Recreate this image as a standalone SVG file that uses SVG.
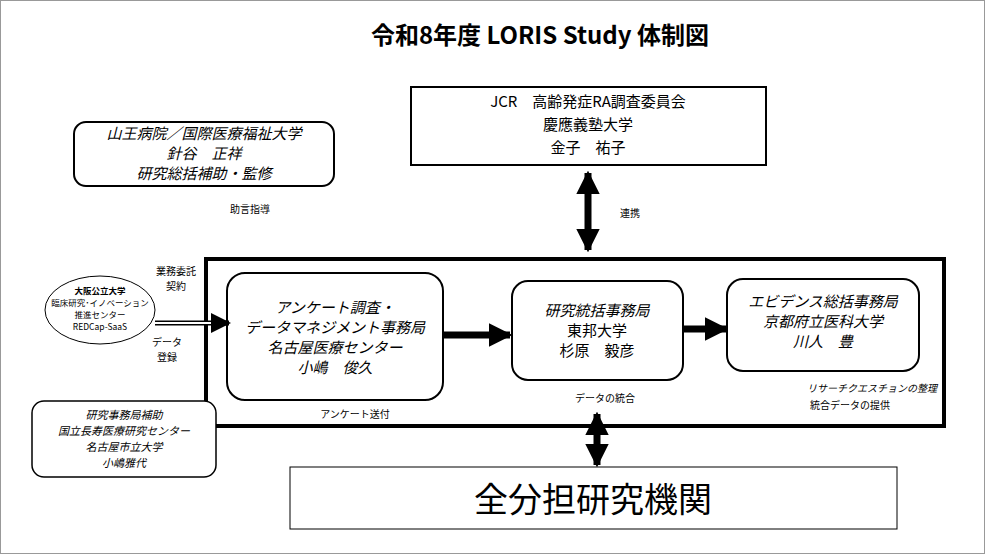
<svg xmlns="http://www.w3.org/2000/svg" width="985" height="554" viewBox="0 0 985 554">
<style>
text{font-family:"Noto Sans CJK JP","Noto Sans",sans-serif;fill:#000;text-anchor:middle}
.b{fill:#fff;stroke:#000;stroke-width:2}
.it{font-style:italic}
.s{font-size:10px}
.e{font-size:8.5px}
.m{font-size:15px}
</style>
<defs>
<marker id="ah" viewBox="0 0 10 10" refX="9" refY="5" markerWidth="3.4" markerHeight="3.4" orient="auto-start-reverse"><path d="M0,0L10,5L0,10z"/></marker>
<marker id="ah2" viewBox="0 0 10 10" refX="9" refY="5" markerWidth="4" markerHeight="4" orient="auto"><path d="M0,0L10,5L0,10z"/></marker>
</defs>
<rect x="0.5" y="0.5" width="984" height="553" fill="#fff" stroke="#999"/>
<text x="540" y="44" font-size="24" font-weight="bold">令和8年度 LORIS Study 体制図</text>
<g id="frame"><rect x="206" y="259" width="738" height="167" fill="none" stroke="#000" stroke-width="4"/></g>
<g id="jcr"><rect class="b" x="411" y="87" width="355" height="78"/>
<text class="m" x="588" y="107">JCR　高齢発症RA調査委員会</text>
<text class="m" x="588" y="130">慶應義塾大学</text>
<text class="m" x="588" y="153">金子　祐子</text></g>
<g id="sanno"><rect class="b" x="74" y="122" width="260" height="64" rx="12"/>
<text class="m it" x="204" y="139">山王病院／国際医療福祉大学</text>
<text class="m it" x="204" y="159">針谷　正祥</text>
<text class="m it" x="204" y="179">研究総括補助・監修</text></g>
<text class="s" x="250" y="213">助言指導</text>
<text class="s" x="630" y="217">連携</text>
<g id="osaka"><ellipse cx="100" cy="310" rx="55" ry="34" fill="#fff" stroke="#000" stroke-width="1"/>
<text class="e" x="100" y="294" font-weight="bold">大阪公立大学</text>
<text class="e" x="100" y="306">臨床研究･イノベーション</text>
<text class="e" x="100" y="318">推進センター</text>
<text class="e" x="100" y="330">REDCap-SaaS</text></g>
<text class="s" x="176" y="275">業務委託</text>
<text class="s" x="176" y="290">契約</text>
<text class="s" x="167" y="346">データ</text>
<text class="s" x="167" y="361">登録</text>
<g id="assist"><rect class="b" x="32" y="401" width="184" height="76" rx="12" style="stroke-width:1.5"/>
<text class="it" x="124" y="419" font-size="11">研究事務局補助</text>
<text class="it" x="124" y="435" font-size="11">国立長寿医療研究センター</text>
<text class="it" x="124" y="451" font-size="11">名古屋市立大学</text>
<text class="it" x="124" y="467" font-size="11">小嶋雅代</text></g>
<g id="survey"><rect class="b" x="227" y="273" width="216" height="127" rx="18"/>
<text class="m it" x="335" y="313">アンケート調査・</text>
<text class="m it" x="335" y="333">データマネジメント事務局</text>
<text class="m it" x="335" y="353">名古屋医療センター</text>
<text class="m it" x="335" y="373">小嶋　俊久</text></g>
<text class="s" x="355" y="418">アンケート送付</text>
<g id="center"><rect class="b" x="512" y="281" width="171" height="99" rx="16"/>
<text class="m it" x="597" y="316">研究統括事務局</text>
<text class="m" x="597" y="336">東邦大学</text>
<text class="m" x="597" y="356">杉原　毅彦</text></g>
<text class="s" x="605" y="402">データの統合</text>
<g id="evidence"><rect class="b" x="727" y="279" width="192" height="92" rx="16"/>
<text class="m it" x="823" y="307">エビデンス総括事務局</text>
<text class="m it" x="823" y="327">京都府立医科大学</text>
<text class="m it" x="823" y="347">川人　豊</text></g>
<text class="s it" x="872" y="392">リサーチクエスチョンの整理</text>
<text class="s" x="850" y="409">統合データの提供</text>
<g id="all"><rect x="290" y="467" width="607" height="62" fill="#fff" stroke="#000" stroke-width="1"/>
<text x="593" y="512" font-size="34">全分担研究機関</text></g>
<g id="connectors" stroke="#000" fill="none">
<path d="M443,335H510" stroke-width="7" marker-end="url(#ah)"/>
<path d="M683,329H726" stroke-width="7" marker-end="url(#ah)"/>
<path d="M588,173V250" stroke-width="7" marker-start="url(#ah)" marker-end="url(#ah)"/>
<path d="M597,414V465" stroke-width="7" marker-start="url(#ah)" marker-end="url(#ah)"/>
<path d="M155,323H215" stroke-width="5"/>
<path d="M155,323H215" stroke="#fff" stroke-width="2"/>
<path d="M213,323H229" stroke-width="5" marker-end="url(#ah2)"/>
</g>
</svg>
